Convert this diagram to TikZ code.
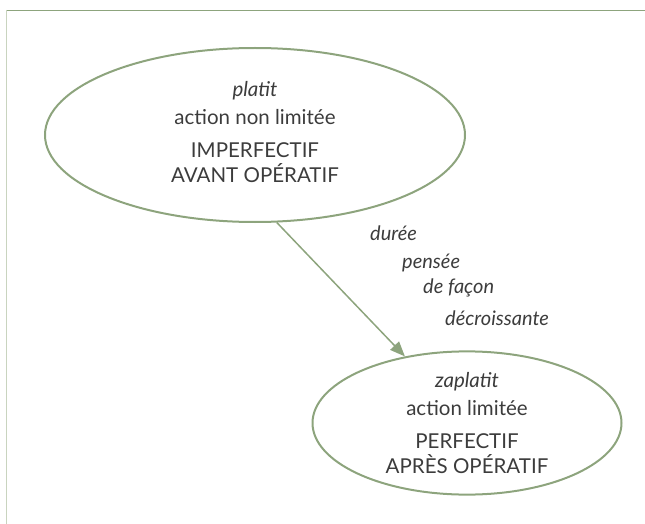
\documentclass[tikz,border=0pt]{standalone}
\usepackage{fontspec}
\setmainfont{Lato}
\usetikzlibrary{shapes.geometric,arrows.meta}
\definecolor{leaf}{HTML}{8DA47D}
\definecolor{paleleaf}{HTML}{C9D4BF}
\definecolor{ink}{HTML}{3C3C3C}
\begin{document}
\begin{tikzpicture}[x=1pt,y=1pt,
  oval/.style={ellipse, draw=leaf, line width=2pt, inner sep=0pt, align=center, text=ink, font=\fontsize{20.5}{25}\selectfont},
  link/.style={draw=leaf, line width=1.5pt, -{Triangle[length=15pt,width=12pt]}},
  lbl/.style={anchor=base west, inner sep=0pt, text=ink, font=\fontsize{20}{24}\selectfont\itshape}]
\useasboundingbox (0,0) rectangle (645,-524);
\draw[leaf, line width=1pt] (6,-10.5) -- (645,-10.5);
\draw[paleleaf, line width=1.6pt] (6.5,-10) -- (6.5,-524);
\node[oval, minimum width=420pt, minimum height=174pt] (imperf) at (255,-135)
  {\textit{platit}\\[3pt] action non limitée\\[8pt] IMPERFECTIF\\ AVANT OPÉRATIF\rule[-6pt]{0pt}{6pt}};
\node[oval, minimum width=309pt, minimum height=138pt] (perf) at (467,-423)
  {\textit{zaplatit}\\[3pt] action limitée\\[8pt] PERFECTIF\\ APRÈS OPÉRATIF};
\draw[link] (imperf.-76) -- (perf.133);
\node[lbl] (l1) at (370,-240) {durée};
\node[lbl] (l2) at (402,-268) {pensée};
\node[lbl] (l3) at (423,-293) {de façon};
\node[lbl] (l4) at (445,-325) {décroissante};
\end{tikzpicture}
\end{document}
